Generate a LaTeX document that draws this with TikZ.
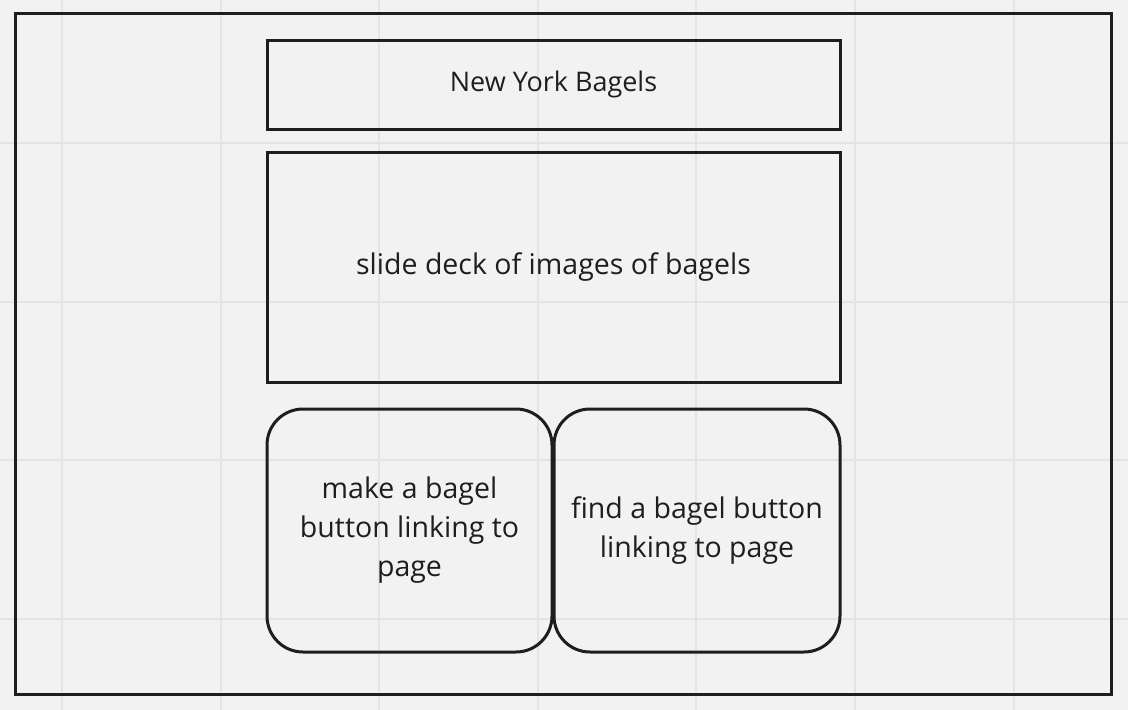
\documentclass[tikz,border=0pt]{standalone}
\usepackage{fontspec}
\setmainfont{Open Sans}
\definecolor{canvas}{HTML}{F2F2F2}
\definecolor{gridline}{HTML}{E4E4E4}
\definecolor{ink}{HTML}{1E1E1E}
\begin{document}
\begin{tikzpicture}[x=1pt,y=-1pt,
  frame/.style={draw=ink,line width=3pt},
  boxnode/.style={frame,rectangle,inner sep=0pt,outer sep=0pt,anchor=north west,text=ink,align=center},
  roundbox/.style={boxnode,rounded corners=36pt},
  bodytext/.style={font=\fontsize{28.5}{39}\selectfont}]
  % canvas and background grid
  \fill[canvas] (0,0) rectangle (1128,710);
  \useasboundingbox (0,0) rectangle (1128,710);
  \foreach \gx in {62,220.6,379.2,537.8,696.4,855,1013.6}
    \draw[gridline,line width=2pt] (\gx,0) -- (\gx,710);
  \foreach \gy in {143,301.6,460.2,618.8}
    \draw[gridline,line width=2pt] (0,\gy) -- (1128,\gy);
  % page frame
  \node[boxnode,minimum width=1096pt,minimum height=681pt] (page) at (15,13) {};
  % header
  \node[boxnode,minimum width=573pt,minimum height=89pt,font=\fontsize{27}{36}\selectfont] (title) at (267,40) {New York Bagels};
  % slideshow
  \node[boxnode,bodytext,minimum width=573pt,minimum height=230pt] (slides) at (267,152) {slide deck of images of bagels};
  % buttons
  \node[roundbox,bodytext,minimum width=285pt,minimum height=243pt] (make) at (267,409) {make a bagel\\button linking to\\page};
  \node[roundbox,bodytext,minimum width=286pt,minimum height=243pt] (find) at (554,409) {find a bagel button\\linking to page};
\end{tikzpicture}
\end{document}
